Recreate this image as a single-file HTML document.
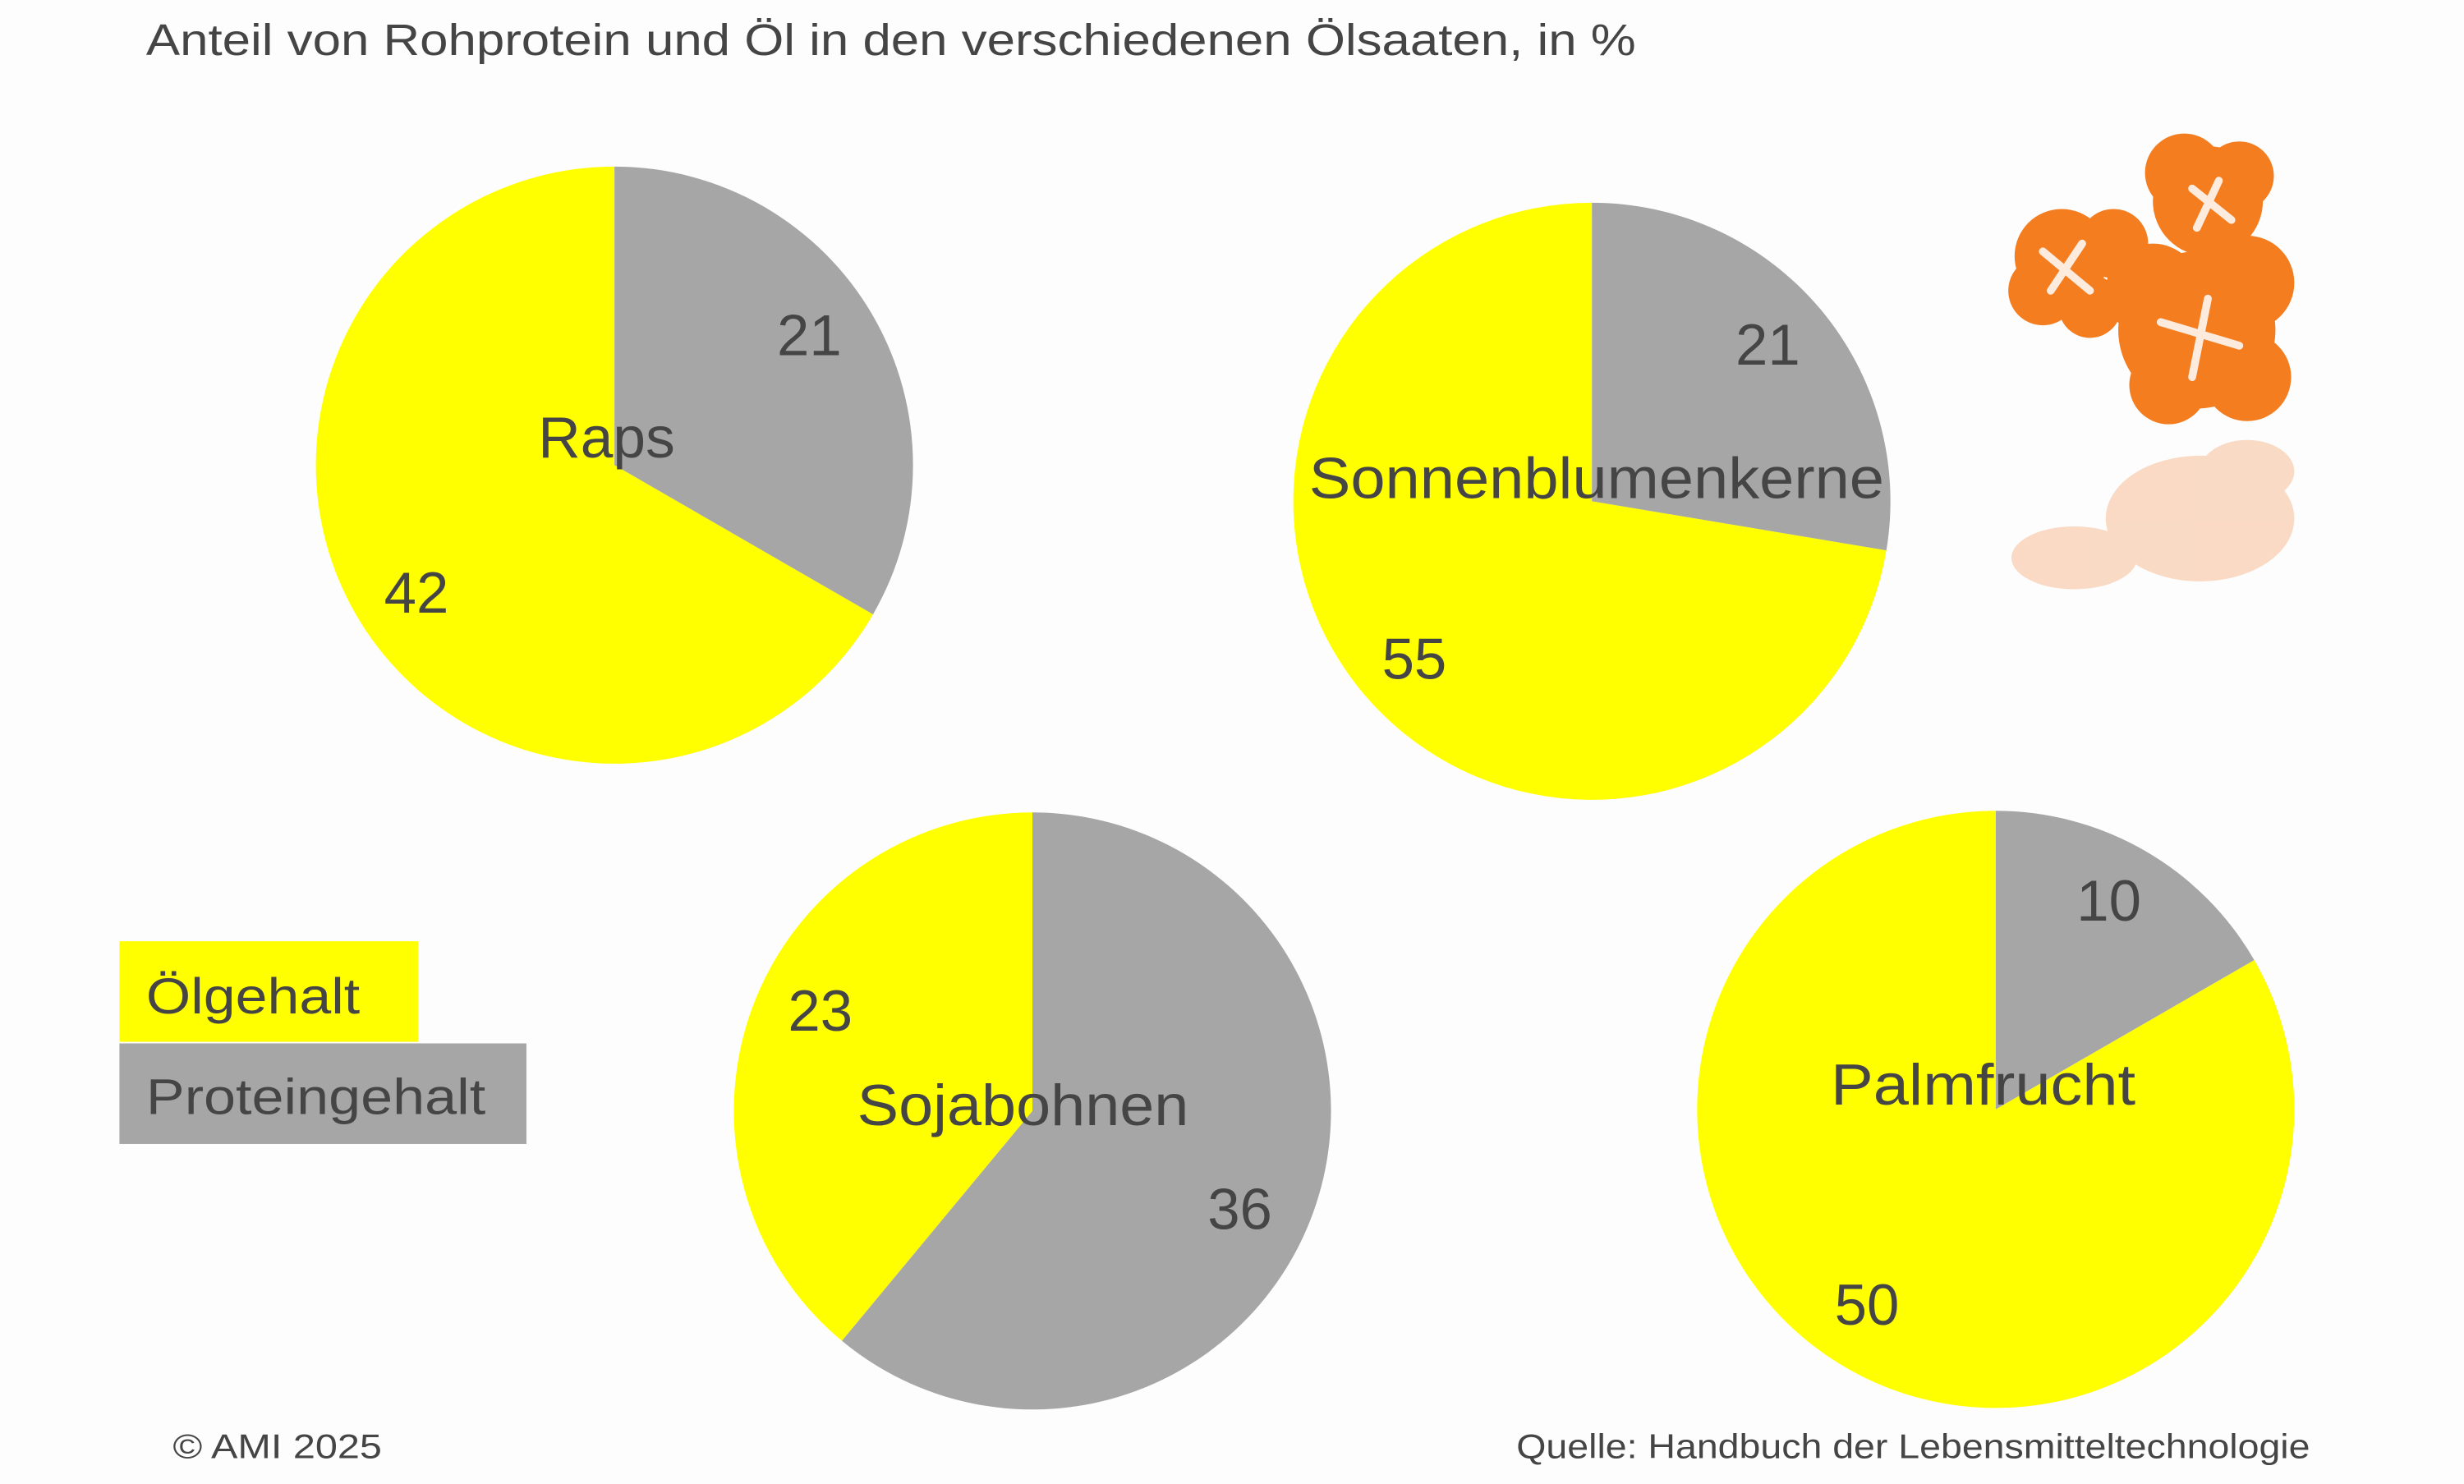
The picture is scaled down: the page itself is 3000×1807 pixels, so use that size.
<!DOCTYPE html>
<html><head><meta charset="utf-8"><style>
html,body{margin:0;padding:0;background:#fdfdfd}
svg{display:block}
text{font-family:"Liberation Sans",sans-serif;fill:#454545}
</style></head><body>
<svg id="chart" width="3000" height="1807" viewBox="0 0 1568 944.4" preserveAspectRatio="none" xmlns="http://www.w3.org/2000/svg">
<rect width="1568" height="944.4" fill="#fdfdfd"/>
<text x="93" y="35" font-size="28" textLength="948" lengthAdjust="spacingAndGlyphs">Anteil von Rohprotein und Öl in den verschiedenen Ölsaaten, in %</text>
<g>
<g fill="#f47d20">
<circle cx="1312" cy="163" r="30"/><circle cx="1345" cy="155" r="22"/><circle cx="1300" cy="185" r="22"/><circle cx="1330" cy="195" r="20"/>
<circle cx="1405" cy="128" r="35"/><circle cx="1390" cy="110" r="25"/><circle cx="1425" cy="112" r="22"/>
<circle cx="1398" cy="210" r="50"/><circle cx="1370" cy="185" r="30"/><circle cx="1430" cy="180" r="30"/><circle cx="1430" cy="240" r="28"/><circle cx="1380" cy="245" r="25"/>
</g>
<g stroke="#fff" stroke-width="5" stroke-linecap="round" opacity="0.85">
<line x1="1300" y1="160" x2="1330" y2="185"/><line x1="1325" y1="155" x2="1305" y2="185"/>
<line x1="1395" y1="120" x2="1420" y2="140"/><line x1="1412" y1="115" x2="1398" y2="145"/>
<line x1="1375" y1="205" x2="1425" y2="220"/><line x1="1405" y1="190" x2="1395" y2="240"/>
</g>
<g fill="#f8c3a0" opacity="0.6">
<ellipse cx="1400" cy="330" rx="60" ry="40"/><ellipse cx="1320" cy="355" rx="40" ry="20"/><ellipse cx="1430" cy="300" rx="30" ry="20"/>
</g>
</g>
<g id="pies"></g>
<rect x="76" y="599" width="190" height="64" fill="#ffff00"/>
<rect x="76" y="664" width="259" height="64" fill="#a6a6a6"/>
<text x="93" y="645" font-size="32" textLength="136" lengthAdjust="spacingAndGlyphs">Ölgehalt</text>
<text x="93" y="709" font-size="32" textLength="216" lengthAdjust="spacingAndGlyphs">Proteingehalt</text>
<text x="110" y="928" font-size="22" textLength="133" lengthAdjust="spacingAndGlyphs">© AMI 2025</text>
<text x="965" y="928" font-size="22" textLength="505" lengthAdjust="spacingAndGlyphs">Quelle: Handbuch der Lebensmitteltechnologie</text>
</svg>
<script>
const names = ["Raps","Sonnenblumenkerne","Sojabohnen","Palmfrucht"];
const oil = [42,55,23,50];
const protein = [21,21,36,10];
const nameWidths = [87,366,211,194];
const layout = [
 {cx:391,cy:296,name:[386,291],p:[515,226],o:[265,390]},
 {cx:1013,cy:319,name:[1016,317],p:[1125,232],o:[900,432]},
 {cx:657,cy:707,name:[651,716],p:[789,782],o:[522,656]},
 {cx:1270,cy:706,name:[1262,703],p:[1342,586],o:[1188,843]}
];
const R = 190;
const NS = "http://www.w3.org/2000/svg";
const g = document.getElementById('pies');
function pt(cx,cy,frac){const a=frac*2*Math.PI;return [cx+R*Math.sin(a),cy-R*Math.cos(a)];}
function arc(cx,cy,f0,f1,color){
  const p0=pt(cx,cy,f0),p1=pt(cx,cy,f1);const large=(f1-f0)>0.5?1:0;
  const path=document.createElementNS(NS,'path');
  path.setAttribute('d',`M${cx},${cy} L${p0[0]},${p0[1]} A${R},${R} 0 ${large} 1 ${p1[0]},${p1[1]} Z`);
  path.setAttribute('fill',color);
  return path;
}
function txt(x,y,s,size,name,len){
  const t=document.createElementNS(NS,'text');
  t.setAttribute('x',x);t.setAttribute('y',y);t.setAttribute('font-size',size);t.setAttribute('text-anchor','middle');
  if(len){t.setAttribute('textLength',len);t.setAttribute('lengthAdjust','spacingAndGlyphs');}
  t.textContent=s;
  
  
  g.appendChild(t);
}
names.forEach((n,i)=>{
  const L=layout[i];const tot=oil[i]+protein[i];const pf=protein[i]/tot;
  const ps=arc(L.cx,L.cy,0,pf,'#a6a6a6');
  
  
  g.appendChild(ps);
  const os=arc(L.cx,L.cy,pf,1,'#ffff00');
  
  
  g.appendChild(os);
  txt(L.p[0],L.p[1],protein[i],37,'protein-value',null);
  txt(L.o[0],L.o[1],oil[i],37,'oil-value',null);
  txt(L.name[0],L.name[1],n,37,'pie-name',nameWidths[i]);
});
</script>
</body></html>
